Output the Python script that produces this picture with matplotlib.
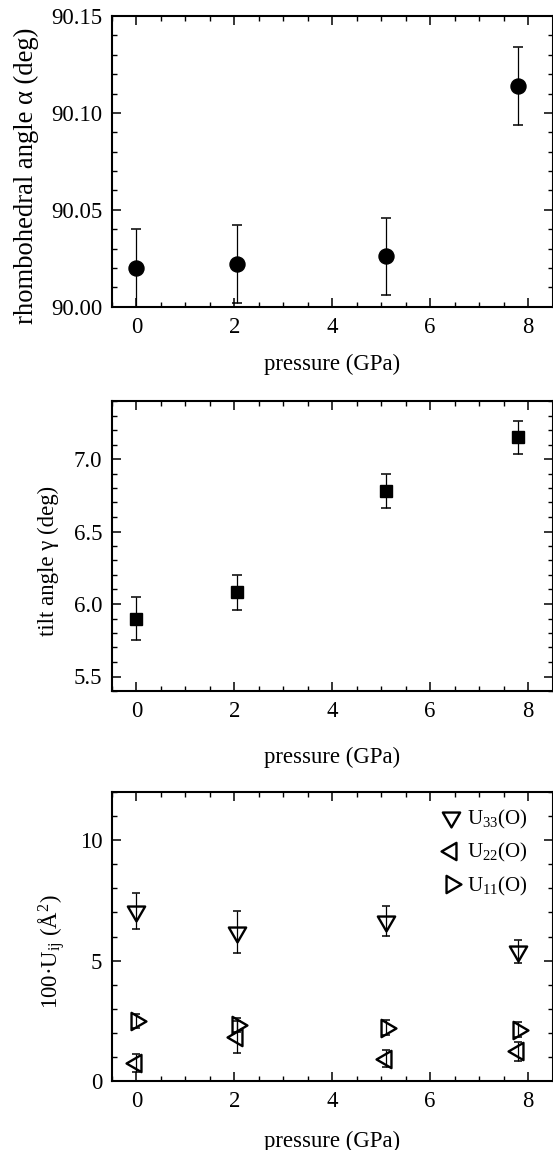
import numpy as np
import matplotlib
matplotlib.use("Agg")
import matplotlib.pyplot as plt
from matplotlib.path import Path
from matplotlib.lines import Line2D
from matplotlib.ticker import MultipleLocator, FormatStrFormatter

# ---------------- data ----------------
pressure = [0.0, 2.05, 5.1, 7.8]

alpha = [90.020, 90.022, 90.026, 90.114]
alpha_err = [0.020, 0.020, 0.020, 0.020]

gamma = [5.90, 6.08, 6.78, 7.15]
gamma_err = [0.15, 0.12, 0.12, 0.115]

u33 = [7.07, 6.18, 6.63, 5.39]
u33_err = [0.75, 0.87, 0.62, 0.47]
u22 = [0.75, 1.82, 0.92, 1.23]
u22_err = [0.38, 0.67, 0.35, 0.38]
u11 = [2.49, 2.32, 2.22, 2.13]
u11_err = [0.30, 0.30, 0.30, 0.30]

legend_labels = [r"U$_{\mathrm{33}}$(O)", r"U$_{\mathrm{22}}$(O)", r"U$_{\mathrm{11}}$(O)"]

# ---------------- style ----------------
plt.rcParams["font.family"] = ["Liberation Serif", "DejaVu Serif"]
plt.rcParams["mathtext.fontset"] = "custom"
plt.rcParams["mathtext.rm"] = "Liberation Serif"
plt.rcParams["mathtext.it"] = "Liberation Serif:italic"
plt.rcParams["mathtext.bf"] = "Liberation Serif:bold"

TICK_FS = 16.4
LABEL_FS = 16.4


def tri_marker(direction):
    # triangle centred on its centroid (like Origin)
    w, h = 7.25, 12.5
    base = (-w, h / 3.0), (w, h / 3.0), (0.0, -2.0 * h / 3.0)
    pts = np.array(base)
    if direction == "right":
        pts = np.column_stack([-pts[:, 1], pts[:, 0]])
    elif direction == "left":
        pts = np.column_stack([pts[:, 1], pts[:, 0]])
    verts = list(map(tuple, pts)) + [tuple(pts[0])]
    codes = [Path.MOVETO, Path.LINETO, Path.LINETO, Path.CLOSEPOLY]
    return Path(verts, codes)


TRI_MS = 14.3
TRI_MEW = 1.7

fig = plt.figure(figsize=(5.53, 11.5), dpi=100)
W, H = 553.0, 1150.0
left = 112 / W
width = (552.5 - 112) / W
ax1 = fig.add_axes([left, 1 - 306.7 / H, width, 290.7 / H])
ax2 = fig.add_axes([left, 1 - 691.0 / H, width, 290.0 / H])
ax3 = fig.add_axes([left, 1 - 1081.0 / H, width, 289.0 / H])


def style_axis(ax):
    ax.set_xlim(-0.5, 8.5)
    ax.xaxis.set_major_locator(MultipleLocator(2))
    ax.xaxis.set_minor_locator(MultipleLocator(0.5))
    ax.tick_params(which="both", direction="in", top=True, right=True,
                   labelsize=TICK_FS)
    ax.tick_params(which="major", length=6.5, width=1.1)
    ax.tick_params(which="minor", length=3.6, width=1.0)
    ax.tick_params(axis="y", which="major", pad=7)
    ax.tick_params(axis="x", which="major", pad=7.5)
    for s in ax.spines.values():
        s.set_linewidth(1.5)


# ---- panel 1 ----
ax1.errorbar(pressure, alpha, yerr=alpha_err, fmt="o", color="black",
             ms=10.8, elinewidth=0.9, capsize=3.8, capthick=1.1,
             ecolor="black", clip_on=False, zorder=3)
style_axis(ax1)
ax1.set_ylim(90.00, 90.15)
ax1.yaxis.set_major_locator(MultipleLocator(0.05))
ax1.yaxis.set_minor_locator(MultipleLocator(0.01))
ax1.yaxis.set_major_formatter(FormatStrFormatter("%.2f"))
ax1.set_ylabel("rhombohedral angle α (deg)", fontsize=19.2)
ax1.yaxis.label.set_verticalalignment("center")
ax1.yaxis.set_label_coords((26 - 112) / 440.5, (306.7 - 176) / 290.7)
ax1.set_xlabel("pressure (GPa)", fontsize=LABEL_FS)
ax1.xaxis.set_label_coords(0.5, (306.7 - 354) / 290.7)

# ---- panel 2 ----
ax2.errorbar(pressure, gamma, yerr=gamma_err, fmt="s", color="black",
             ms=8.8, elinewidth=0.9, capsize=3.8, capthick=1.1,
             ecolor="black", zorder=3)
style_axis(ax2)
ax2.set_ylim(5.4, 7.4)
ax2.yaxis.set_major_locator(MultipleLocator(0.5))
ax2.yaxis.set_minor_locator(MultipleLocator(0.1))
ax2.yaxis.set_major_formatter(FormatStrFormatter("%.1f"))
ax2.set_ylabel("tilt angle γ (deg)", fontsize=LABEL_FS)
ax2.yaxis.label.set_verticalalignment("center")
ax2.yaxis.set_label_coords((48 - 112) / 440.5, (691 - 560.5) / 290.0)
ax2.set_xlabel("pressure (GPa)", fontsize=LABEL_FS)
ax2.xaxis.set_label_coords(0.5, (691 - 747) / 290.0)

# ---- panel 3 ----
series = [
    (u33, u33_err, tri_marker("down")),
    (u22, u22_err, tri_marker("left")),
    (u11, u11_err, tri_marker("right")),
]
handles = []
for (vals, errs, mk), lab in zip(series, legend_labels):
    ax3.errorbar(pressure, vals, yerr=errs, fmt="none", ecolor="black",
                 elinewidth=0.9, capsize=2.8, capthick=1.1, zorder=2)
    ax3.plot(pressure, vals, linestyle="none", marker=mk, ms=TRI_MS,
             mfc="none", mec="black", mew=TRI_MEW, zorder=3)
    handles.append(Line2D([], [], linestyle="none", marker=mk, ms=TRI_MS,
                          mfc="none", mec="black", mew=TRI_MEW, label=lab))
style_axis(ax3)
ax3.set_ylim(0, 12)
ax3.yaxis.set_major_locator(MultipleLocator(5))
ax3.yaxis.set_minor_locator(MultipleLocator(1))
ax3.set_ylabel(r"100·U$_{\mathrm{ij}}$ (Å$^{2}$)", fontsize=LABEL_FS)
ax3.yaxis.label.set_verticalalignment("center")
ax3.yaxis.set_label_coords((52 - 112) / 440.5, (1081 - 951.5) / 289.0)
ax3.set_xlabel("pressure (GPa)", fontsize=LABEL_FS)
ax3.xaxis.set_label_coords(0.5, (1081 - 1131) / 289.0)

ax3.legend(handles=handles, loc="upper right",
           bbox_to_anchor=((527 - 112) / 440.5, (1081 - 808) / 289.0),
           frameon=False, fontsize=15.0, borderpad=0, borderaxespad=0,
           handlelength=1.0, handletextpad=0.25, labelspacing=0.5)

fig.savefig("out.png", dpi=100)
